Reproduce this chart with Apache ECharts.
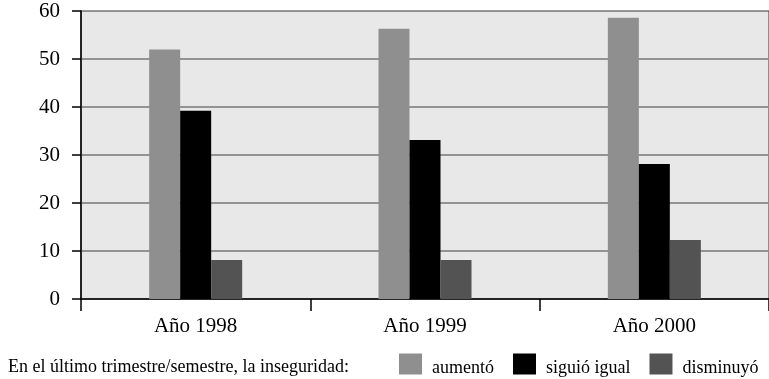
<!DOCTYPE html>
<html>
<head>
<meta charset="utf-8">
<script src="https://cdn.jsdelivr.net/npm/echarts@6/dist/echarts.min.js"></script>
<style>
  html, body { margin: 0; padding: 0; background: #ffffff; }
  #chart { width: 769px; height: 379px; }
</style>
</head>
<body>
<div id="chart"></div>
<script>
// Percepción de inseguridad por año
const categories = ['Año 1998', 'Año 1999', 'Año 2000'];
const seriesNames = ['aumentó', 'siguió igual', 'disminuyó'];
const aumento = [52, 56.3, 58.6];
const siguioIgual = [39.2, 33.1, 28.1];
const disminuyo = [8.1, 8.1, 12.3];
const yTicks = [0, 10, 20, 30, 40, 50, 60];
const legendCaption = 'En el último trimestre/semestre, la inseguridad:';

const colors = ['#8f8f8f', '#000000', '#535353'];
const serif = '"Liberation Serif", "DejaVu Serif", serif';

const chart = echarts.init(document.getElementById('chart'), null, { renderer: 'canvas' });

const values = [aumento, siguioIgual, disminuyo];

chart.setOption({
  animation: false,
  backgroundColor: '#ffffff',
  grid: {
    left: 81,
    top: 11,
    width: 697,
    height: 288,
    show: true,
    backgroundColor: '#e8e8e8',
    borderColor: '#333333',
    borderWidth: 1
  },
  legend: {
    left: 399,
    top: 351,
    padding: 0,
    itemWidth: 23,
    itemHeight: 21,
    itemGap: 19,
    icon: 'rect',
    formatter: (name) => '{t|' + name + '}',
    textStyle: {
      fontFamily: serif, fontSize: 18, color: '#000',
      rich: {
        t: { fontFamily: serif, fontSize: 18, lineHeight: 18, color: '#000', padding: [8, 0, 0, 5] }
      }
    },
    data: seriesNames
  },
  graphic: [{
    type: 'text',
    left: 8,
    top: 358,
    style: { text: legendCaption, fontFamily: serif, fontSize: 18, fill: '#000' }
  }],
  xAxis: {
    type: 'category',
    data: categories,
    boundaryGap: true,
    axisLine: { show: true, lineStyle: { color: '#000', width: 1.5 } },
    axisTick: { show: true, alignWithLabel: false, length: 12, lineStyle: { color: '#000', width: 1.5 } },
    axisLabel: { fontFamily: serif, fontSize: 21, color: '#000', margin: 17 }
  },
  yAxis: {
    type: 'value',
    min: yTicks[0],
    max: yTicks[yTicks.length - 1],
    interval: 10,
    axisLine: { show: true, lineStyle: { color: '#000', width: 1.5 } },
    axisTick: { show: true, length: 9, lineStyle: { color: '#000', width: 1.5 } },
    axisLabel: { fontFamily: serif, fontSize: 21, color: '#000', margin: 21 },
    splitLine: {
      show: true,
      showMinLine: false,
      showMaxLine: false,
      lineStyle: { color: '#939393', width: 2 }
    }
  },
  series: seriesNames.map((name, i) => ({
    name: name,
    type: 'bar',
    data: values[i],
    barWidth: 31,
    barGap: '0%',
    itemStyle: { color: colors[i] }
  }))
});
</script>
</body>
</html>
